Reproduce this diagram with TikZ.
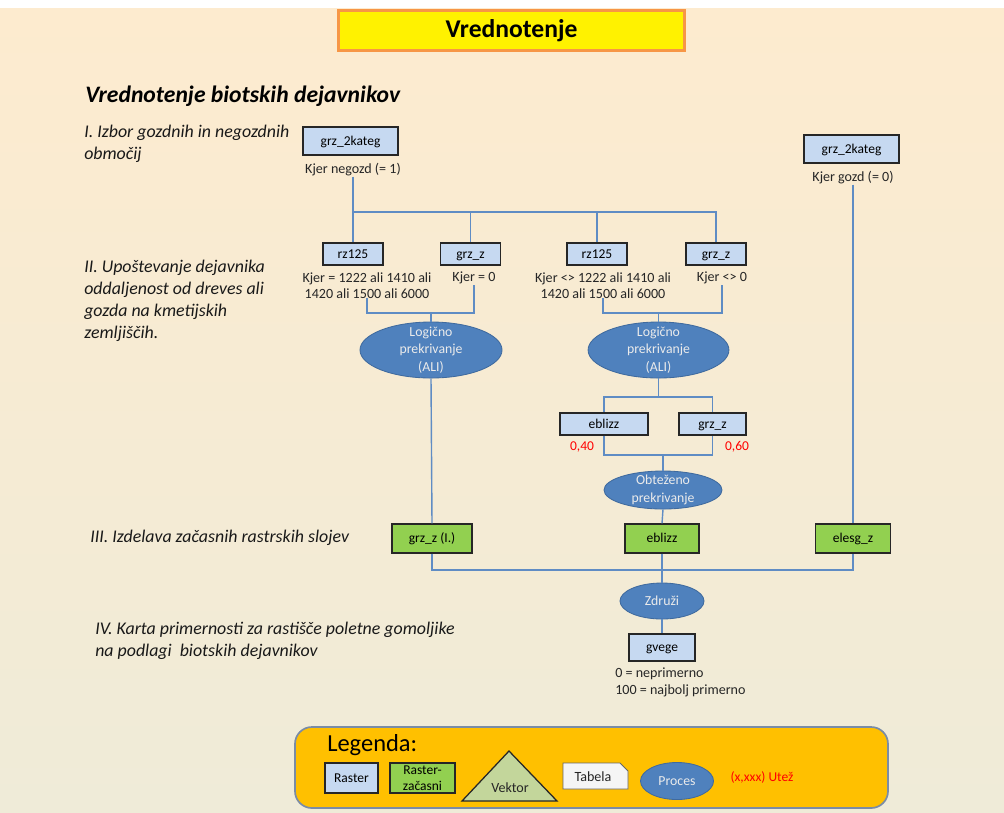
\documentclass[tikz,border=0pt]{standalone}
\usepackage{fontspec}
\setmainfont{Carlito}
\usetikzlibrary{shapes.geometric}
\definecolor{bgtop}{HTML}{FDEBCF}
\definecolor{bgbot}{HTML}{EFEBD8}
\definecolor{rastblue}{HTML}{C6D9F1}
\definecolor{rastgreen}{HTML}{92D050}
\definecolor{procblue}{HTML}{4F81BD}
\definecolor{procline}{HTML}{3F6A9E}
\definecolor{connblue}{HTML}{5F8CC4}
\definecolor{boxline}{HTML}{262626}
\definecolor{legfill}{HTML}{FFC000}
\definecolor{legline}{HTML}{7A8CA6}
\definecolor{titleline}{HTML}{F79646}
\definecolor{vekfill}{HTML}{C3D69B}
\definecolor{tabfill}{HTML}{F5F5F5}
\definecolor{weightred}{HTML}{FF0000}
\begin{document}
\begin{tikzpicture}[x=0.025cm,y=-0.025cm,
  small/.style={font=\fontsize{10}{11.4}\selectfont,text=black!85,inner sep=0pt,align=center},
  raster/.style={draw=boxline,fill=rastblue,line width=0.9pt,inner sep=0pt,minimum width=#1,minimum height=0.55cm,text height=1.5ex,text depth=0.3ex,font=\fontsize{9.6}{11}\selectfont},
  tmpraster/.style={raster=#1,fill=rastgreen,minimum height=0.725cm},
  proc/.style={ellipse,draw=procline,fill=procblue,line width=0.6pt,inner sep=-7pt,text=white!92!black,align=center,font=\fontsize{9.8}{12.4}\selectfont},
  stage/.style={font=\fontsize{12.7}{15.5}\selectfont\itshape,text=black!90,inner sep=0pt,align=left},
  weight/.style={font=\fontsize{9.6}{11}\selectfont,text=weightred,inner sep=0pt},
  conn/.style={draw=connblue,line width=1pt}]
\useasboundingbox (0,0) rectangle (1004,812);
\shade[top color=bgtop,bottom color=bgbot] (0,8) rectangle (1004,812);

\node[draw=titleline,fill=yellow,line width=2pt,minimum width=8.65cm,minimum height=0.98cm,font=\fontsize{18.2}{20}\selectfont\bfseries] (title) at (511.5,30.5) {Vrednotenje};
\node[anchor=base west,inner sep=0pt,font=\fontsize{16.8}{19}\selectfont\bfseries\itshape] (head) at (85,102) {Vrednotenje biotskih dejavnikov};

\node[stage,anchor=north west] (st1) at (84,125) {I. Izbor gozdnih in negozdnih\\območij};
\node[stage,anchor=north west] (st2) at (84,260) {II. Upoštevanje dejavnika\\oddaljenost od dreves ali\\gozda na kmetijskih\\zemljiščih.};
\node[stage,anchor=north west] (st3) at (90,530) {III. Izdelava začasnih rastrskih slojev};
\node[stage,anchor=north west] (st4) at (95,622) {IV. Karta primernosti za rastišče poletne gomoljike\\na podlagi\ \ biotskih dejavnikov};

\node[raster=2.375cm,minimum height=0.7cm] (kA) at (350.5,141) {grz\_2kateg};
\node[small] (lA) at (353,170) {Kjer negozd (= 1)};
\node[raster=2.375cm,minimum height=0.7cm] (kB) at (851.5,149) {grz\_2kateg};
\node[small] (lB) at (853,178) {Kjer gozd (= 0)};

\node[raster=1.5cm] (r1) at (353,254) {rz125};
\node[raster=1.5cm] (g1) at (470.5,254) {grz\_z};
\node[raster=1.5cm] (r2) at (597,254) {rz125};
\node[raster=1.5cm] (g2) at (716,254) {grz\_z};
\node[small,anchor=north] (l1) at (367,272) {Kjer = 1222 ali 1410 ali\\1420 ali 1500 ali 6000};
\node[small,anchor=north] (l2) at (474,272) {Kjer = 0};
\node[small,anchor=north] (l3) at (603,272) {Kjer <> 1222 ali 1410 ali\\1420 ali 1500 ali 6000};
\node[small,anchor=north] (l4) at (722,272) {Kjer <> 0};

\node[proc,minimum width=3.55cm,minimum height=1.4cm] (e1) at (431,350) {Logično\\prekrivanje\\(ALI)};
\node[proc,minimum width=3.52cm,minimum height=1.4cm] (e2) at (658.5,350) {Logično\\prekrivanje\\(ALI)};

\node[raster=2.2cm] (bz) at (604,424) {eblizz};
\node[raster=1.675cm] (g3) at (712.5,424) {grz\_z};
\node[weight] (w1) at (582,447) {0,40};
\node[weight] (w2) at (737,447) {0,60};

\node[proc,minimum width=2.95cm,minimum height=0.95cm] (e3) at (663,490) {Obteženo\\prekrivanje};

\node[tmpraster=2cm] (gz) at (432,538.5) {grz\_z (I.)};
\node[tmpraster=1.85cm] (gb) at (662,538.5) {eblizz};
\node[tmpraster=1.875cm] (gl) at (853,538.5) {elesg\_z};

\node[proc,minimum width=2.1cm,minimum height=0.9cm] (e4) at (662,601) {Združi};
\node[raster=1.65cm,minimum height=0.675cm] (gv) at (662,647.5) {gvege};
\node[small,align=left,anchor=north west] (lv) at (615,668) {0 = neprimerno\\100 = najbolj primerno};

\coordinate (fork) at (353,212);
\coordinate (j1) at (431,313);
\coordinate (j2) at (658.5,313);
\coordinate (j3) at (658.5,397);
\coordinate (j4) at (663,455);
\coordinate (j5) at (662,570);

\draw[conn] (lA.south) -- (fork);
\foreach \n in {r1,g1,r2,g2} \draw[conn] (fork) -| (\n.north);
\draw[conn] (l1.south) |- (j1) -| (l2.south);
\draw[conn] (j1) -- (e1.north);
\draw[conn] (l3.south) |- (j2) -| (l4.south);
\draw[conn] (j2) -- (e2.north);
\draw[conn] (e2.south) -- (j3);
\draw[conn] (j3) -| (bz.north);
\draw[conn] (j3) -| (g3.north);
\draw[conn] (bz.south) |- (j4) -| (g3.south);
\draw[conn] (j4) -- (e3.north);
\draw[conn] (e3.south) -- (gb.north);
\draw[conn] (e1.south) -- (gz.north);
\draw[conn] (lB.south) -- (gl.north);
\draw[conn] (gz.south) |- (j5) -| (gl.south);
\draw[conn] (gb.south) -- (j5);
\draw[conn] (j5) -- (e4.north);
\draw[conn] (e4.south) -- (gv.north);

% legenda
\draw[draw=legline,fill=legfill,line width=1.2pt,rounded corners=12] (295,727) rectangle (888,808);
\node[anchor=base west,inner sep=0pt,font=\fontsize{17.4}{19}\selectfont] (leg) at (327,751) {Legenda:};
\node[raster=1.325cm,minimum height=0.75cm] (legr) at (351.5,778) {Raster};
\node[tmpraster=1.625cm,minimum height=0.75cm,text height=,text depth=,align=center,font=\fontsize{9.6}{11.5}\selectfont] (legt) at (422.5,778) {Raster-\\začasni};
\draw[draw=boxline,fill=vekfill,line width=0.9pt] (462,801) -- (509,751) -- (557,801) -- cycle;
\node[small] (legv) at (510,788) {Vektor};
\draw[draw=boxline!70,fill=tabfill,line width=0.6pt] (563,763) -- (620,763) -- (628,771) -- (628,789) -- (563,789) -- cycle;
\node[small] (legb) at (593,777) {Tabela};
\node[proc,minimum width=1.825cm,minimum height=0.925cm] (legp) at (677,781) {Proces};
\node[weight] (legw) at (762,777) {(x,xxx) Utež};
\end{tikzpicture}
\end{document}
